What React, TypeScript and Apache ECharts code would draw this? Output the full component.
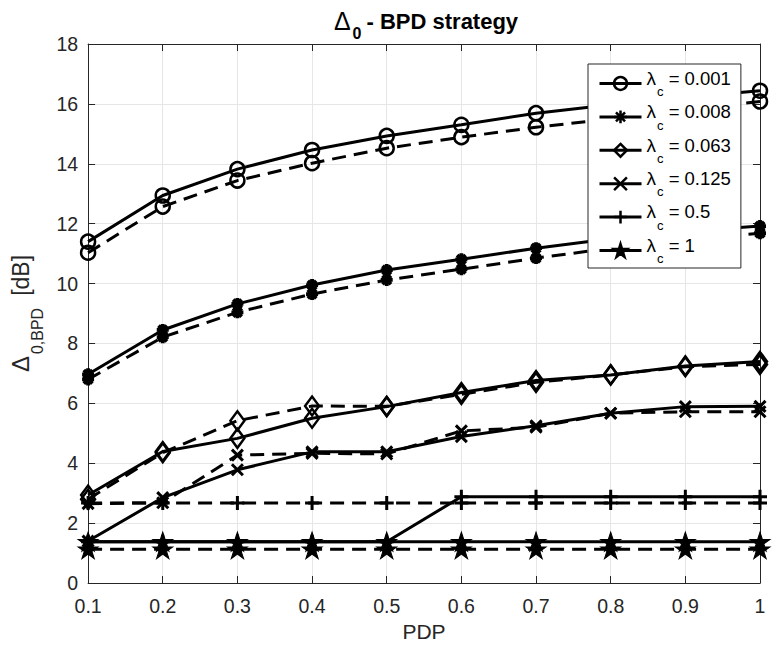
import React, { useEffect, useRef } from "react";
import * as echarts from "echarts";

// ---------- data ----------
const pdpValues = [0.1, 0.2, 0.3, 0.4, 0.5, 0.6, 0.7, 0.8, 0.9, 1.0];
const legendLabels = ["λc = 0.001", "λc = 0.008", "λc = 0.063", "λc = 0.125", "λc = 0.5", "λc = 1"];
const yTicksMin = 0;
const yTicksMax = 18;
const yTickStep = 2;

const lam0001Solid = [11.4, 12.94, 13.82, 14.46, 14.93, 15.3, 15.69, 15.97, 16.22, 16.44];
const lam0001Dashed = [11.03, 12.57, 13.44, 14.02, 14.52, 14.89, 15.22, 15.5, 15.82, 16.08];
const lam0008Solid = [6.97, 8.45, 9.32, 9.95, 10.45, 10.81, 11.18, 11.5, 11.74, 11.92];
const lam0008Dashed = [6.8, 8.21, 9.04, 9.65, 10.12, 10.48, 10.85, 11.18, 11.45, 11.68];
const lam0063Solid = [2.94, 4.39, 4.83, 5.5, 5.89, 6.36, 6.76, 6.95, 7.25, 7.4];
const lam0063Dashed = [2.8, 4.35, 5.42, 5.91, 5.9, 6.3, 6.7, 6.95, 7.22, 7.3];
const lam0125Solid = [1.4, 2.85, 3.78, 4.38, 4.38, 4.89, 5.25, 5.67, 5.89, 5.9];
const lam0125Dashed = [2.65, 2.68, 4.27, 4.33, 4.31, 5.08, 5.2, 5.67, 5.72, 5.72];
const lam05Solid = [1.38, 1.38, 1.38, 1.38, 1.38, 2.88, 2.88, 2.88, 2.88, 2.88];
const lam05Dashed = [2.67, 2.67, 2.67, 2.67, 2.67, 2.67, 2.67, 2.67, 2.67, 2.67];
const lam1Solid = [1.38, 1.38, 1.38, 1.38, 1.38, 1.38, 1.38, 1.38, 1.38, 1.38];
const lam1Dashed = [1.13, 1.13, 1.13, 1.13, 1.13, 1.13, 1.13, 1.13, 1.13, 1.13];

// ---------- styles ----------
const FONT = "'Liberation Sans', Arial, Helvetica, sans-serif";
const INK = "#262626";

const SYM_ASTERISK = "path://M0,-1L0,1M-1,0L1,0M-0.71,-0.71L0.71,0.71M-0.71,0.71L0.71,-0.71";
const SYM_X = "path://M-1,-1L1,1M-1,1L1,-1";
const SYM_PLUS = "path://M0,-1L0,1M-1,0L1,0";
const SYM_STAR =
  "path://M0,-1L0.2245,-0.309L0.951,-0.309L0.3633,0.118L0.5878,0.809L0,0.382L-0.5878,0.809L-0.3633,0.118L-0.951,-0.309L-0.2245,-0.309Z";

type MarkerDef = { symbol: string; size: number | number[]; filled: boolean; bw: number };
const markers: MarkerDef[] = [
  { symbol: "circle", size: 14, filled: false, bw: 2.5 },
  { symbol: SYM_ASTERISK, size: 12, filled: false, bw: 3.8 },
  { symbol: "diamond", size: [14, 19], filled: false, bw: 2.5 },
  { symbol: SYM_X, size: 11, filled: false, bw: 3 },
  { symbol: SYM_PLUS, size: 14, filled: false, bw: 3 },
  { symbol: SYM_STAR, size: [20, 19], filled: true, bw: 1 },
];

const solidSets = [lam0001Solid, lam0008Solid, lam0063Solid, lam0125Solid, lam05Solid, lam1Solid];
const dashedSets = [lam0001Dashed, lam0008Dashed, lam0063Dashed, lam0125Dashed, lam05Dashed, lam1Dashed];

function makeSeries(name: string, values: number[], m: MarkerDef, dashed: boolean) {
  return {
    type: "line",
    name,
    data: pdpValues.map((x, i) => [x, values[i]]),
    symbol: m.symbol,
    symbolSize: m.size,
    showSymbol: true,
    showAllSymbol: true,
    silent: true,
    z: dashed ? 2 : 3,
    lineStyle: { color: "#000", width: 3, type: dashed ? [14, 8] : "solid" },
    itemStyle: {
      color: m.filled ? "#000" : "rgba(0,0,0,0)",
      borderColor: "#000",
      borderWidth: m.bw,
    },
    emphasis: { disabled: true },
  };
}

export default function App() {
  const ref = useRef<HTMLDivElement>(null);

  useEffect(() => {
    if (!ref.current) return;
    const chart = echarts.init(ref.current, undefined, { renderer: "svg" });

    const series: any[] = [];
    legendLabels.forEach((lab, i) => {
      series.push(makeSeries(lab + " (dashed)", dashedSets[i], markers[i], true));
    });
    legendLabels.forEach((lab, i) => {
      series.push(makeSeries(lab, solidSets[i], markers[i], false));
    });

    const xLabelFmt = (v: number) => String(Number(v.toFixed(1)));

    const option: any = {
      animation: false,
      backgroundColor: "#fff",
      title: {
        text: "{d|Δ}{s|0}{t|- BPD strategy}",
        left: 421,
        top: 7,
        textAlign: "center",
        textStyle: {
          rich: {
            d: { fontFamily: FONT, fontSize: 25, fontWeight: "normal", lineHeight: 26, padding: [0, 0, 7.5, 0], color: "#000" },
            s: { fontFamily: FONT, fontSize: 16, fontWeight: "bold", lineHeight: 16, padding: [17.5, 0, 0, 2], color: "#000" },
            t: { fontFamily: FONT, fontSize: 22, fontWeight: "bold", lineHeight: 26, padding: [0, 0, 7.5, 5], color: "#000" },
          },
        },
      },
      grid: { left: 82, right: 12, top: 44, bottom: 68, show: false },
      legend: {
        data: legendLabels,
        orient: "vertical",
        left: 588,
        top: 64,
        padding: [4.75, 10, 2.75, 10],
        itemGap: 3.9,
        itemWidth: 42,
        itemHeight: 16,
        backgroundColor: "#fff",
        borderColor: INK,
        borderWidth: 1,
        borderRadius: 0,
        selectedMode: false,
        lineStyle: { width: 3 },
        itemStyle: { borderWidth: 2.5 },
        formatter: (name: string) => `{l|λ}{s|c}{t|${name.slice(2)}}`,
        textStyle: {
          color: "#000",
          fontFamily: FONT,
          fontSize: 18.5,
          rich: {
            l: { fontFamily: FONT, fontSize: 19, lineHeight: 20, padding: [0, 0, 10.5, 0], color: "#000" },
            s: { fontFamily: FONT, fontSize: 13, lineHeight: 14, padding: [16.5, 0, 0, 1], color: "#000" },
            t: { fontFamily: FONT, fontSize: 18.5, lineHeight: 20, padding: [0, 0, 10.5, 0], color: "#000" },
          },
        },
      },
      xAxis: [
        {
          type: "value",
          min: 0.1,
          max: 1,
          interval: 0.1,
          position: "bottom",
          name: "PDP",
          nameLocation: "middle",
          nameGap: 31,
          nameTextStyle: { fontFamily: FONT, fontSize: 21, color: INK },
          axisLine: { show: true, onZero: false, lineStyle: { color: INK, width: 1 } },
          axisTick: { show: true, inside: true, length: 7, lineStyle: { color: INK, width: 1 } },
          axisLabel: { margin: 13, fontFamily: FONT, fontSize: 19.5, color: INK, formatter: xLabelFmt },
          splitLine: { show: true, lineStyle: { color: "#e6e6e6", width: 1 } },
        },
        {
          type: "value",
          min: 0.1,
          max: 1,
          interval: 0.1,
          position: "top",
          axisLine: { show: true, onZero: false, lineStyle: { color: INK, width: 1 } },
          axisTick: { show: true, inside: true, length: 7, lineStyle: { color: INK, width: 1 } },
          axisLabel: { show: false },
          splitLine: { show: false },
        },
      ],
      yAxis: [
        {
          type: "value",
          min: yTicksMin,
          max: yTicksMax,
          interval: yTickStep,
          position: "left",
          name: "{d|Δ}{s|0,BPD}{t|[dB]}",
          nameLocation: "middle",
          nameRotate: 90,
          nameGap: 36.5,
          nameTextStyle: {
            rich: {
              d: { fontFamily: FONT, fontSize: 24, lineHeight: 26, padding: [0, 0, 12.5, 0], color: INK },
              s: { fontFamily: FONT, fontSize: 16, lineHeight: 17, padding: [21.5, 0, 0, 2], color: INK },
              t: { fontFamily: FONT, fontSize: 23, lineHeight: 26, padding: [0, 0, 12.5, 12], color: INK },
            },
          },
          axisLine: { show: true, onZero: false, lineStyle: { color: INK, width: 1 } },
          axisTick: { show: true, inside: true, length: 7, lineStyle: { color: INK, width: 1 } },
          axisLabel: { margin: 10, fontFamily: FONT, fontSize: 19.5, color: INK },
          splitLine: { show: true, lineStyle: { color: "#e6e6e6", width: 1 } },
        },
        {
          type: "value",
          min: yTicksMin,
          max: yTicksMax,
          interval: yTickStep,
          position: "right",
          axisLine: { show: true, onZero: false, lineStyle: { color: INK, width: 1 } },
          axisTick: { show: true, inside: true, length: 7, lineStyle: { color: INK, width: 1 } },
          axisLabel: { show: false },
          splitLine: { show: false },
        },
      ],
      series,
    };

    chart.setOption(option);
    return () => {
      chart.dispose();
    };
  }, []);

  return (
    <div
      ref={ref}
      style={{ position: "absolute", left: 0, top: 0, width: 772, height: 651, background: "#fff" }}
    />
  );
}
